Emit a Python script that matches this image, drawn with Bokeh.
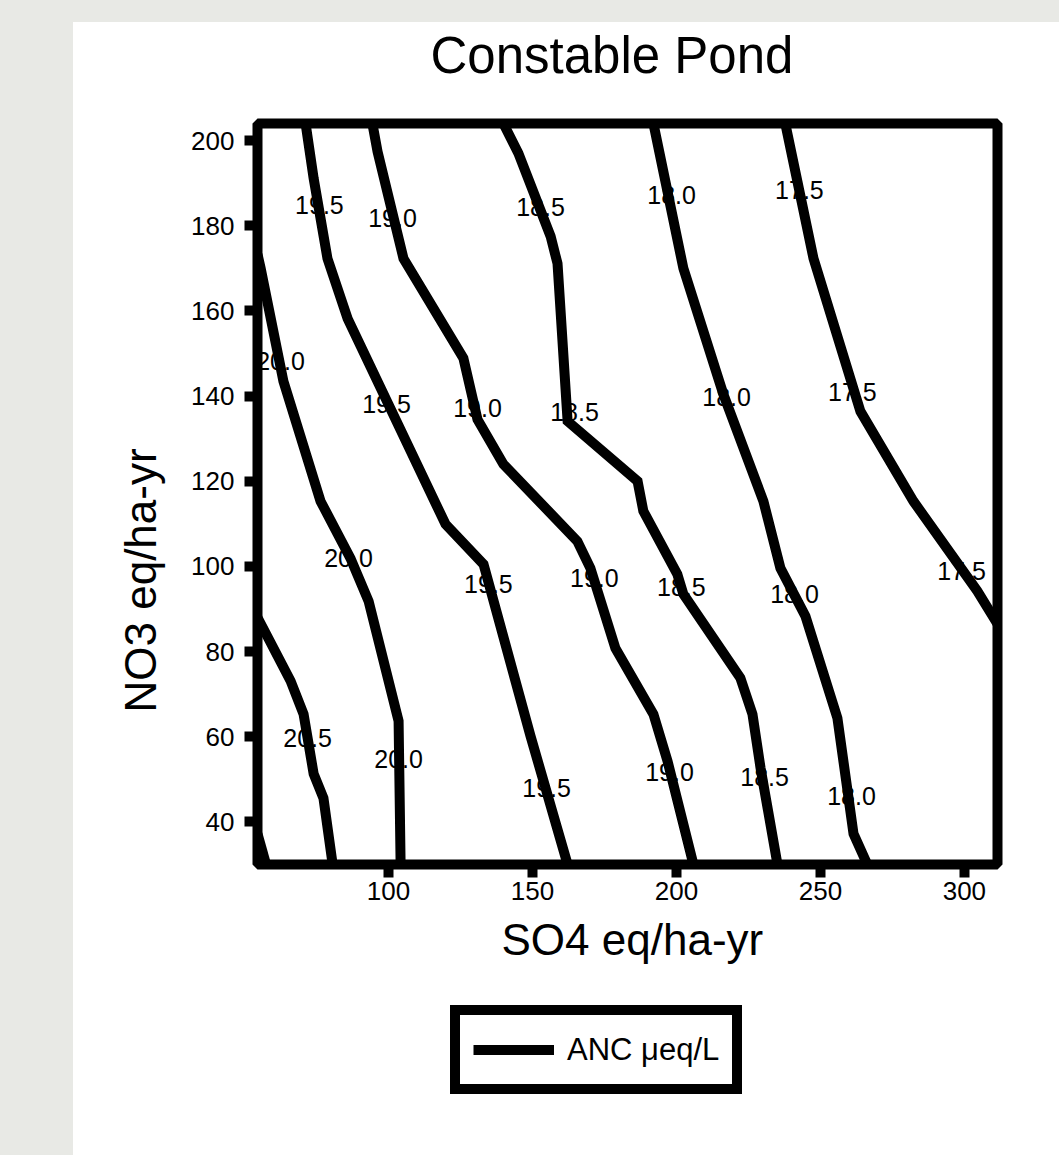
import math
from bokeh.plotting import figure
from bokeh.layouts import column, row
from bokeh.models import (Range1d, FixedTicker, Legend, LegendItem, Title, Spacer,
                          ColumnDataSource)
from bokeh.core.properties import value
from bokeh.embed import file_html
from bokeh.resources import INLINE

FONT = "Liberation Sans"

title_text = "Constable Pond"
x_label = "SO4 eq/ha-yr"
y_label = "NO3 eq/ha-yr"
legend_label = "ANC \u03bceq/L"

x_ticks = [100, 150, 200, 250, 300]
y_ticks = [40, 60, 80, 100, 120, 140, 160, 180, 200]

# ANC contour lines: SO4 (x) and NO3 (y) coordinates
anc_210_x = [54.5, 57.5]
anc_210_y = [37.2, 30.0]
anc_205_x = [54.5, 66.0, 70.5, 74.0, 77.4, 80.6]
anc_205_y = [88.0, 73.1, 65.3, 51.3, 45.6, 30.0]
anc_200_x = [54.5, 55.6, 63.5, 76.4, 86.8, 93.1, 103.5, 104.2]
anc_200_y = [173.3, 170.0, 143.5, 115.3, 101.9, 91.8, 63.7, 30.0]
anc_195_x = [71.2, 74.0, 78.8, 85.8, 119.8, 133.0, 149.3, 162.2]
anc_195_y = [204.0, 191.1, 172.3, 158.2, 109.9, 100.5, 60.2, 30.0]
anc_190_x = [94.4, 96.2, 105.2, 126.0, 130.9, 139.9, 165.6, 170.1, 178.8, 192.0, 196.9, 205.9]
anc_190_y = [204.0, 197.4, 172.3, 148.9, 134.5, 124.0, 105.9, 99.6, 80.8, 65.3, 54.3, 30.0]
anc_185_x = [139.9, 145.1, 156.3, 158.7, 162.2, 186.5, 188.5, 200.3, 202.4, 222.2, 226.4, 229.2, 235.1]
anc_185_y = [204.0, 197.0, 177.5, 171.1, 134.1, 120.0, 113.0, 98.2, 93.5, 73.8, 65.3, 52.7, 30.0]
anc_180_x = [192.0, 202.4, 216.3, 230.2, 236.1, 244.8, 255.9, 261.5, 266.3]
anc_180_y = [204.0, 170.0, 140.4, 115.3, 99.6, 88.3, 64.4, 37.2, 30.0]
anc_175_x = [237.8, 247.6, 263.9, 282.3, 304.5, 311.5]
anc_175_y = [204.0, 172.3, 136.4, 115.3, 94.2, 86.5]

# contour labels
label_x = [62.5, 86.1, 103.5, 71.9, 76.0, 99.3, 134.7, 154.9, 101.4, 130.9, 171.5, 197.6,
           152.8, 164.6, 201.7, 230.6, 198.3, 217.4, 241.0, 260.8, 242.7, 261.1, 299.0]
label_y = [148.2, 101.9, 54.8, 59.7, 184.8, 138.1, 95.8, 48.0, 181.7, 137.1, 97.2, 51.7,
           184.5, 136.2, 95.1, 50.6, 187.3, 139.7, 93.5, 46.1, 188.5, 140.9, 98.9]
label_text = ["20.0", "20.0", "20.0", "20.5", "19.5", "19.5", "19.5", "19.5", "19.0", "19.0", "19.0", "19.0",
              "18.5", "18.5", "18.5", "18.5", "18.0", "18.0", "18.0", "18.0", "17.5", "17.5", "17.5"]

x_min, x_max = 54.5, 311.5
y_min, y_max = 30.0, 204.0

PAD_L, PAD_T = 73, 22
W = 1059 - PAD_L
H_HEAD = 100 - PAD_T
H_MAIN = 990 - 100
H_LEG = 1155 - 990

src = ColumnDataSource(data=dict(
    xs=[anc_210_x, anc_205_x, anc_200_x, anc_195_x, anc_190_x, anc_185_x, anc_180_x, anc_175_x],
    ys=[anc_210_y, anc_205_y, anc_200_y, anc_195_y, anc_190_y, anc_185_y, anc_180_y, anc_175_y],
))

# heading strip
p0 = figure(width=W, height=H_HEAD, output_backend="svg", toolbar_location=None,
            x_range=Range1d(x_min, x_max), y_range=Range1d(y_min, y_max),
            x_axis_type=None, y_axis_type=None, min_border=0)
p0.outline_line_color = None
p0.background_fill_color = None
p0.border_fill_color = "white"
p0.title.text = title_text
p0.title.align = "left"
p0.title.offset = 173
p0.title.standoff = 4
p0.title.text_font = FONT
p0.title.text_font_size = "51px"
p0.title.text_font_style = "normal"
p0.title.text_color = "black"

# main chart
p = figure(width=W, height=H_MAIN, output_backend="svg", toolbar_location=None,
           x_range=Range1d(x_min, x_max), y_range=Range1d(y_min, y_max),
           min_border_left=184, min_border_right=62, min_border_top=23, min_border_bottom=126)
p.background_fill_color = "white"
p.border_fill_color = "white"
p.outline_line_color = "black"
p.outline_line_width = 10
p.grid.visible = False

for ax in (p.xaxis, p.yaxis):
    ax.axis_line_color = None
    ax.major_tick_line_color = "black"
    ax.major_tick_line_width = 10
    ax.major_tick_out = 13
    ax.major_tick_in = 0
    ax.minor_tick_line_color = None
    ax.major_label_text_font = FONT
    ax.major_label_text_font_size = "26px"
    ax.major_label_text_color = "black"
p.xaxis.ticker = FixedTicker(ticks=x_ticks)
p.yaxis.ticker = FixedTicker(ticks=y_ticks)
p.xaxis.major_label_standoff = 4
p.yaxis.major_label_standoff = 10

p.text(x=label_x, y=label_y, text=label_text, text_font=value(FONT), text_font_size="25px",
       text_align="center", text_baseline="middle", text_color="black")
ml = p.multi_line(xs="xs", ys="ys", source=src, line_color="black", line_width=10, line_join="miter")

xt = Title(text=x_label, align="left", offset=244, standoff=20, text_font=FONT,
           text_font_size="44px", text_font_style="normal", text_color="black")
p.add_layout(xt, "below")

yt = Title(text=y_label, align="left", offset=152, standoff=48, text_font=FONT,
           text_font_size="44px", text_font_style="normal", text_color="black")
p.add_layout(yt, "left")

# legend strip below the chart
p2 = figure(width=W, height=H_LEG, output_backend="svg", toolbar_location=None,
            x_range=Range1d(x_min, x_max), y_range=Range1d(y_min, y_max),
            x_axis_type=None, y_axis_type=None, min_border=0)
p2.outline_line_color = None
p2.background_fill_color = None
p2.border_fill_color = "white"
ml2 = p2.multi_line(xs="xs", ys="ys", source=src, line_color="black", line_width=10, visible=False)

legend = Legend(items=[LegendItem(label=legend_label, renderers=[ml2])], location=(193, 61),
                margin=0, padding=13, glyph_width=81, glyph_height=43, label_height=43,
                label_standoff=13, label_text_font=FONT, label_text_font_size="31px",
                label_text_color="black", border_line_color="black", border_line_width=10,
                border_line_alpha=1.0, background_fill_color="white", background_fill_alpha=1.0,
                inactive_fill_alpha=0.0)
p2.add_layout(legend)

layout = column(Spacer(width=1059, height=PAD_T),
                row(Spacer(width=PAD_L, height=H_HEAD + H_MAIN + H_LEG),
                    column(p0, p, p2, spacing=0, styles={"background-color": "white"}), spacing=0),
                spacing=0, styles={"background-color": "#e8e9e5"})

open("out.html", "w").write(file_html(layout, INLINE))
